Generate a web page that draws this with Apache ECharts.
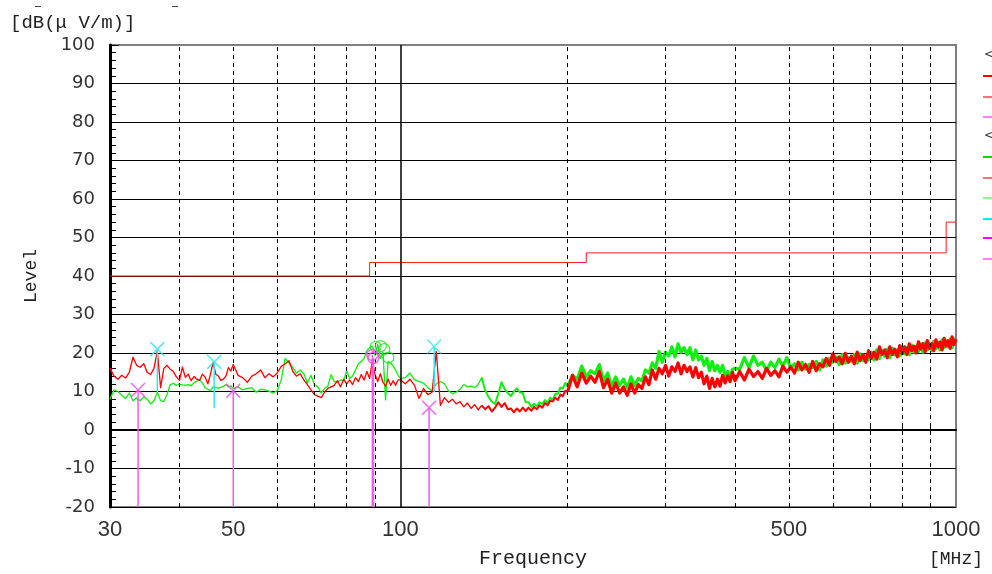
<!DOCTYPE html>
<html>
<head>
<meta charset="utf-8">
<script src="https://cdn.jsdelivr.net/npm/echarts@6/dist/echarts.min.js"></script>
<style>
  html, body { margin: 0; padding: 0; background: #ffffff; }
  #chart { width: 992px; height: 574px; }
</style>
</head>
<body>
<div id="chart"></div>
<script>
// Sweep frequencies (MHz) shared by both measured traces
const freqMHz = [
  30, 30.5, 31, 31.5, 32, 32.5, 33, 33.5, 34, 34.5, 35, 35.5, 36, 36.5, 37, 37.5, 38, 38.5, 39, 39.5,
  40, 40.5, 41, 41.5, 42, 42.5, 43, 43.5, 44, 44.5, 45, 45.5, 46, 46.5, 47, 47.5, 48, 48.5, 49, 49.5,
  50, 51, 52, 53, 54, 55, 56, 57, 58, 59, 60, 61, 62, 63, 64, 65, 66, 67, 68, 69,
  70, 71, 72, 73, 74, 75, 76, 77, 78, 79, 80, 81, 82, 83, 84, 85, 86, 87, 88, 89,
  90, 91, 92, 93, 94, 95, 96, 97, 98, 99,
  100, 102, 104, 106, 108, 110, 112, 114, 116, 118, 120, 122, 124, 126, 128, 130, 132, 134, 136, 138,
  140, 142, 144, 146, 148, 150, 152, 154, 156, 158, 160, 162, 164, 166, 168, 170, 172, 174, 176, 178,
  180, 182, 184, 186, 188, 190, 192, 194, 196, 198,
  200, 204, 208, 212, 216, 220, 224, 228, 232, 236, 240, 244, 248, 252, 256, 260, 264, 268, 272, 276,
  280, 284, 288, 292, 296, 300, 304, 308, 312, 316, 320, 324, 328, 332, 336, 340, 344, 348, 352, 356,
  360, 364, 368, 372, 376, 380, 384, 388, 392, 396,
  400, 408, 416, 424, 432, 440, 448, 456, 464, 472, 480, 488, 496, 504, 512, 520, 528, 536, 544, 552,
  560, 568, 576, 584, 592, 600, 608, 616, 624, 632, 640, 648, 656, 664, 672, 680, 688, 696, 704, 712,
  720, 728, 736, 744, 752, 760, 768, 776, 784, 792, 800, 808, 816, 824, 832, 840, 848, 856, 864, 872,
  880, 888, 896, 904, 912, 920, 928, 936, 944, 952, 960, 968, 976, 984, 992, 1000
];

// Red trace, dB(uV/m)
const levelRed = [
  16.0, 14.0, 13.2, 14.2, 13.5, 15.0, 18.9, 16.8, 16.3, 17.2, 15.0, 14.4, 16.0, 20.6, 11.0, 16.0, 16.8, 15.8, 15.2, 13.8,
  12.9, 16.3, 13.7, 14.5, 12.8, 13.9, 13.2, 12.9, 14.5, 13.7, 12.0, 14.5, 17.6, 14.5, 14.0, 12.9, 13.2, 14.0, 16.2, 15.3,
  17.0, 14.2, 13.6, 12.4, 14.0, 14.6, 15.6, 13.6, 14.6, 13.8, 14.8, 16.5, 17.2, 18.0, 15.2, 14.0, 14.6, 13.0, 11.8, 10.4,
  9.2, 8.8, 8.4, 9.8, 10.8, 11.2, 11.6, 12.8, 11.2, 13.2, 12.0, 13.0, 11.8, 13.6, 12.6, 14.4, 13.0, 15.2, 13.4, 18.0,
  14.4, 12.6, 14.6, 12.4, 11.4, 13.2, 11.6, 12.8, 11.6, 13.0,
  13.0, 12.0, 13.2, 11.6, 8.2, 10.8, 9.2, 9.8, 20.4, 6.4, 8.4, 7.2, 8.0, 6.8, 7.4, 6.0, 7.0, 5.6, 6.6, 5.2,
  6.4, 5.4, 6.2, 4.8, 5.8, 7.2, 6.0, 7.0, 5.4, 5.6, 4.6, 5.6, 4.8, 5.8, 4.9, 5.8, 5.0, 6.0, 5.4, 6.4,
  5.8, 7.0, 6.4, 7.6, 7.4, 8.4, 7.8, 9.2, 8.8, 10.2,
  10.0, 14.2, 11.2, 14.8, 12.2, 14.0, 12.4, 15.2, 11.0, 13.2, 9.6, 12.2, 9.6, 11.2, 9.0, 12.0, 9.6, 11.8, 10.8, 13.8,
  11.8, 15.6, 13.2, 16.0, 14.6, 16.8, 14.0, 16.4, 15.2, 17.4, 14.6, 16.8, 15.2, 16.4, 13.8, 16.2, 13.6, 15.0, 12.0, 14.0,
  10.8, 13.4, 11.2, 13.2, 11.4, 14.2, 12.2, 14.0, 12.6, 15.0,
  12.8, 15.2, 13.0, 15.8, 13.9, 15.2, 13.4, 16.0, 14.2, 15.4, 13.8, 16.6, 15.0, 16.4, 14.8, 17.6, 15.6, 17.0, 15.0, 17.8,
  15.4, 17.2, 16.4, 18.6, 16.8, 19.8, 17.8, 19.0, 17.2, 19.9, 17.6, 19.2, 17.2, 20.2, 18.0, 19.6, 17.6, 20.6, 18.6, 20.2,
  18.4, 21.6, 19.6, 20.8, 18.8, 21.6, 19.6, 21.0, 19.0, 21.9, 19.8, 21.6, 19.6, 22.4, 20.6, 21.8, 20.0, 22.9, 21.0, 22.4,
  20.4, 23.2, 21.2, 22.4, 20.6, 23.4, 21.6, 22.8, 20.8, 23.8, 21.8, 23.2, 21.2, 24.2, 22.2, 23.6
];

// Green trace, dB(uV/m)
const levelGreen = [
  8.0, 10.4, 10.0, 9.0, 8.2, 9.6, 7.6, 8.4, 7.6, 8.6, 8.0, 6.8, 7.6, 9.8, 7.6, 7.4, 9.2, 11.8, 12.1, 11.6,
  11.9, 11.7, 11.6, 11.8, 11.5, 12.3, 12.7, 13.1, 12.2, 11.0, 10.6, 10.2, 11.2, 11.1, 10.8, 11.1, 11.3, 11.8, 11.2, 11.5,
  10.8, 11.2, 10.4, 10.8, 11.0, 9.8, 10.6, 10.4, 10.1, 9.6, 10.2, 13.0, 18.6, 17.4, 16.2, 14.8, 15.6, 14.6, 12.2, 14.2,
  11.8, 11.2, 9.6, 10.8, 11.4, 14.4, 12.6, 12.4, 13.0, 12.8, 15.4, 13.4, 14.0, 15.6, 17.2, 17.8, 18.6, 20.6, 21.4, 21.8,
  19.4, 22.2, 18.6, 20.2, 7.8, 17.8, 17.4, 16.6, 15.6, 14.2,
  13.4, 13.6, 14.8, 13.0, 12.6, 12.2, 11.0, 10.2, 12.0, 12.6, 12.0, 10.2, 9.4, 9.8, 10.6, 11.8, 11.2, 11.4, 11.0, 11.8,
  13.6, 10.4, 8.6, 7.4, 6.8, 9.4, 12.4, 10.6, 9.6, 8.8, 10.0, 10.8, 9.8, 9.6, 7.2, 7.2, 6.0, 6.8, 6.2, 7.2,
  6.8, 7.8, 7.0, 8.4, 7.8, 9.4, 9.4, 11.0, 10.8, 12.2,
  11.4, 14.2, 13.2, 16.6, 13.8, 15.4, 14.6, 17.0, 12.8, 14.8, 11.4, 13.8, 11.6, 13.2, 11.0, 13.8, 11.6, 13.4, 12.8, 15.6,
  14.8, 17.4, 16.0, 20.4, 17.6, 20.2, 19.2, 21.6, 19.0, 22.4, 20.2, 21.4, 19.6, 21.4, 18.2, 20.8, 18.2, 19.2, 16.8, 18.6,
  15.4, 17.8, 15.4, 16.8, 15.0, 16.8, 14.0, 15.2, 13.6, 15.8,
  16.0, 15.8, 18.8, 16.2, 19.2, 16.8, 17.6, 15.4, 17.6, 16.2, 18.4, 16.6, 18.8, 16.0, 17.2, 15.6, 17.6, 15.8, 17.0, 16.2,
  17.8, 15.6, 18.2, 16.6, 18.6, 17.6, 19.0, 17.0, 19.6, 17.4, 18.8, 17.8, 19.6, 17.4, 19.8, 18.0, 19.4, 18.2, 20.2, 18.2,
  20.8, 18.6, 20.6, 19.2, 21.0, 18.8, 21.2, 19.6, 20.8, 19.2, 21.6, 19.8, 21.4, 19.6, 22.0, 20.2, 21.8, 20.4, 22.4, 20.2,
  22.6, 20.8, 22.4, 20.6, 23.0, 21.2, 22.8, 20.8, 23.4, 21.4, 23.2, 21.6, 23.6, 21.4, 23.6, 22.6
];

// Limit line (stepped)
const limitFreq  = [30, 88, 88, 216, 216, 960, 960, 1000];
const limitLevel = [40, 40, 43.5, 43.5, 46, 46, 54, 54];

// Cyan X markers with their drop lines
const cyanFreq   = [36.5, 46.2, 115.0];
const cyanLevel  = [21.0, 17.7, 21.7];
const cyanFloor  = [9.8, 5.7, 9.8];

// Magenta X markers (drop lines to the bottom of the scale)
const magXFreq  = [33.7, 50.0, 112.6];
const magXLevel = [10.4, 10.2, 5.8];

// Magenta circle markers
const magOFreq  = [89.0, 89.4];
const magOLevel = [19.5, 18.7];

// Green circle markers
const grnOFreq  = [90.2, 92.2, 93.5, 95.1];
const grnOLevel = [21.6, 21.8, 21.0, 18.8];

// Axis ticks / labels / grid
const xLabelFreqs = [30, 50, 100, 500, 1000];
const xTickFreqs  = [40, 50, 60, 70, 80, 90, 100, 200, 300, 400, 500, 600, 700, 800, 900];
const xDashFreqs  = [40, 50, 60, 70, 80, 90, 200, 300, 400, 500, 600, 700, 800, 900];
const xSolidFreqs = [100];
const Y_MIN = -20, Y_MAX = 100, Y_STEP = 10;

// The dense part of the sweep renders as a wider band
const TRACE_BANDS = [
  { from: 0,   to: 140,  width: 1.3 },
  { from: 140, to: 200,  width: 2.0 },
  { from: 200, to: 1e9,  width: 3.2 }
];

const MONO = '"Liberation Mono", "DejaVu Sans Mono", monospace';

const pairs = (xs, ys) => xs.map((x, i) => [x, ys[i]]);
const stems = (xs, tops, bottoms) => {
  const d = [];
  xs.forEach((x, i) => { d.push([x, tops[i]], [x, bottoms[i]], [x, '-']); });
  return d;
};
const bandSlice = (xs, ys, band) => pairs(xs, ys).filter(p => p[0] >= band.from && p[0] <= band.to);

const traceSeries = (ys, color, z) => TRACE_BANDS.map(band => ({
  type: 'line', data: bandSlice(freqMHz, ys, band), showSymbol: false, symbol: 'none', z,
  lineStyle: { color, width: band.width, join: 'round' }
}));

const xMark = 'path://M0,0L10,10M10,0L0,10';

const chart = echarts.init(document.getElementById('chart'), null, { renderer: 'canvas' });

const legendRows = [
  { y: 56, text: '<' },
  { y: 76, color: '#ff0000' },
  { y: 97, color: '#ff7070' },
  { y: 117, color: '#ff80ff' },
  { y: 137, text: '<' },
  { y: 157, color: '#00dd00' },
  { y: 178, color: '#ff7070' },
  { y: 198, color: '#80ff80' },
  { y: 219, color: '#00eeee' },
  { y: 238, color: '#ff00ff' },
  { y: 259, color: '#ff80ff' }
];

const graphics = [
  { type: 'text', left: 10, top: 13, style: { text: '[dB(μ V/m)]', font: '19px ' + MONO, fill: '#222' } },
  { type: 'text', left: 929, top: 550, style: { text: '[MHz]', font: '18px ' + MONO, fill: '#222' } },
  { type: 'line', shape: { x1: 35, y1: 6.5, x2: 41, y2: 6.5 }, style: { stroke: '#444', lineWidth: 1 } },
  { type: 'line', shape: { x1: 172, y1: 6.5, x2: 178, y2: 6.5 }, style: { stroke: '#444', lineWidth: 1 } }
];
legendRows.forEach(r => {
  if (r.text) {
    graphics.push({ type: 'text', left: 984, top: r.y - 7, style: { text: r.text, font: '12px "DejaVu Sans"', fill: '#333' } });
  } else {
    graphics.push({ type: 'line', shape: { x1: 983, y1: r.y, x2: 992, y2: r.y }, style: { stroke: r.color, lineWidth: 2 } });
  }
});

const option = {
  animation: false,
  backgroundColor: '#ffffff',
  grid: { left: 110, top: 45, right: 36, bottom: 66, show: true, borderColor: '#7f7f7f', borderWidth: 2, backgroundColor: 'transparent' },
  xAxis: {
    type: 'log', logBase: 10, min: 30, max: 1000,
    name: 'Frequency', nameLocation: 'middle', nameGap: 42,
    nameTextStyle: { fontFamily: MONO, fontSize: 20, color: '#222' },
    axisLine: { show: true, lineStyle: { color: '#000', width: 2 } },
    axisTick: { show: true, inside: true, length: 7, customValues: xTickFreqs, lineStyle: { color: '#000' } },
    axisLabel: {
      customValues: xLabelFreqs, formatter: v => String(v),
      fontFamily: '"Liberation Sans", Arial, sans-serif', fontSize: 22, color: '#333', margin: 12
    },
    splitLine: { show: false },
    minorTick: { show: false }
  },
  yAxis: {
    type: 'value', min: Y_MIN, max: Y_MAX, interval: Y_STEP,
    name: 'Level', nameLocation: 'middle', nameRotate: 90, nameGap: 70,
    nameTextStyle: { fontFamily: MONO, fontSize: 18, color: '#222' },
    axisLine: { show: true, lineStyle: { color: '#000', width: 3 } },
    axisTick: { show: true, inside: true, length: 9, lineStyle: { color: '#000' } },
    minorTick: { show: true, splitNumber: 5, length: 6, lineStyle: { color: '#000' } },
    axisLabel: { fontFamily: '"DejaVu Sans", sans-serif', fontSize: 18, color: '#333', margin: 15 },
    splitLine: { show: true, showMaxLine: false, lineStyle: { color: '#000', width: 1 } }
  },
  graphic: graphics,
  series: [
    {
      // vertical frequency grid
      type: 'line', data: [], silent: true, z: 1,
      markLine: {
        silent: true, symbol: 'none', animation: false,
        label: { show: false },
        lineStyle: { color: '#000', width: 1, type: [4, 4] },
        data: xDashFreqs.map(f => ({ xAxis: f }))
          .concat(xSolidFreqs.map(f => ({ xAxis: f, lineStyle: { type: 'solid', width: 1.5, color: '#000' } })))
      }
    },
    {
      type: 'line', data: pairs(limitFreq, limitLevel), showSymbol: false, symbol: 'none', z: 2,
      lineStyle: { color: '#ff1a1a', width: 1 }
    },
    ...traceSeries(levelGreen, '#11ee11', 3),
    ...traceSeries(levelRed, '#ff0000', 4),
    {
      type: 'line', data: stems(cyanFreq, cyanLevel, cyanFloor), showSymbol: false, symbol: 'none', z: 5,
      lineStyle: { color: '#33e6f2', width: 1.5 }
    },
    {
      type: 'line', data: stems(magXFreq, magXLevel, magXFreq.map(() => Y_MIN)), showSymbol: false, symbol: 'none', z: 5,
      lineStyle: { color: '#f05cf0', width: 1.5 }
    },
    {
      type: 'line', data: stems(magOFreq, magOLevel, magOFreq.map(() => Y_MIN)), showSymbol: false, symbol: 'none', z: 5,
      lineStyle: { color: '#f05cf0', width: 1.5 }
    },
    {
      type: 'scatter', data: pairs(cyanFreq, cyanLevel), symbol: xMark, symbolSize: 14, z: 6,
      itemStyle: { color: 'none', borderColor: '#33e6f2', borderWidth: 1.5 }
    },
    {
      type: 'scatter', data: pairs(magXFreq, magXLevel), symbol: xMark, symbolSize: 14, z: 6,
      itemStyle: { color: 'none', borderColor: '#ee44ee', borderWidth: 1.5 }
    },
    {
      type: 'scatter', data: pairs(grnOFreq, grnOLevel), symbol: 'circle', symbolSize: 11, z: 6,
      itemStyle: { color: 'transparent', borderColor: '#22dd22', borderWidth: 1.2 }
    },
    {
      type: 'scatter', data: pairs(magOFreq, magOLevel), symbol: 'circle', symbolSize: 11, z: 7,
      itemStyle: { color: 'transparent', borderColor: '#ee44ee', borderWidth: 1.5 }
    }
  ]
};

chart.setOption(option);
</script>
</body>
</html>
